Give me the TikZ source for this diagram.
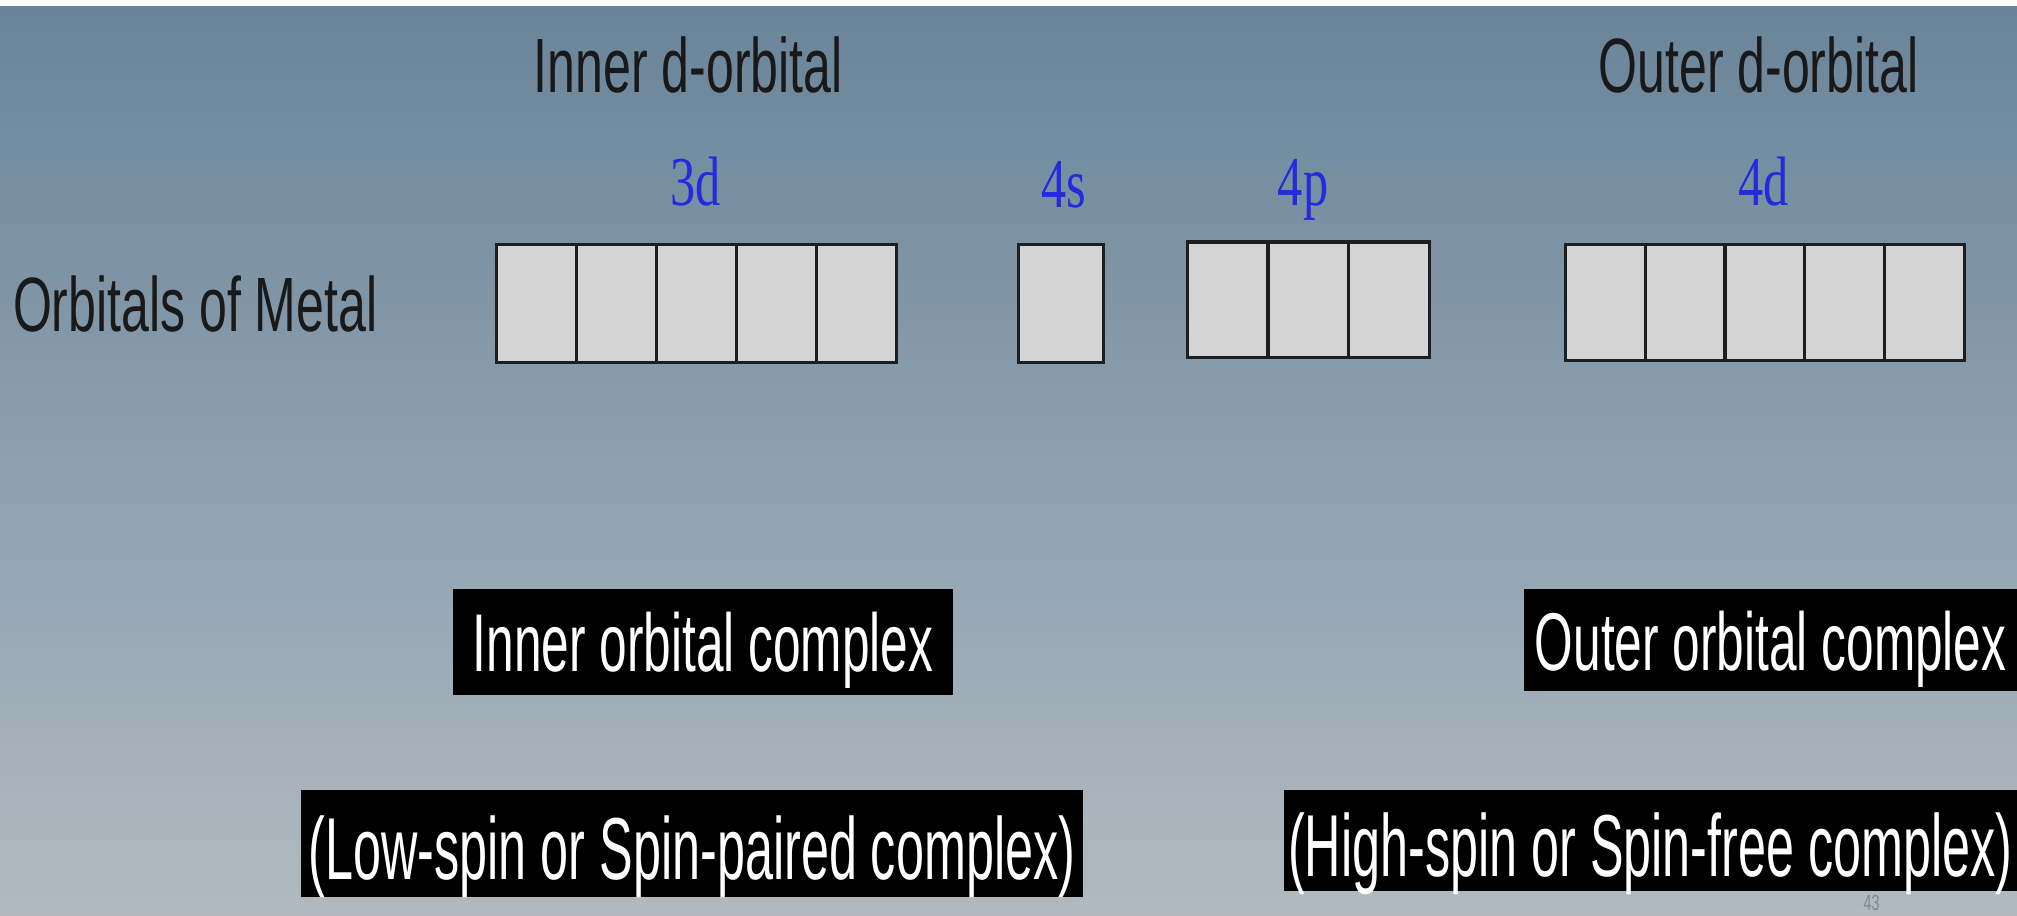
\documentclass[tikz,border=0pt]{standalone}
\usepackage{fontspec}
\newfontfamily\nar[FakeStretch=0.65]{Liberation Sans}
\newfontfamily\narb[FakeStretch=0.605]{Liberation Sans}
\newfontfamily\narc[FakeStretch=0.572]{Liberation Sans}
\newfontfamily\ser[FakeStretch=0.72]{Liberation Serif}
\newdimen\px \px=1.2864pt
\definecolor{bgtop}{RGB}{106,132,153}
\definecolor{bgmid}{RGB}{140,160,175}
\definecolor{bgbot}{RGB}{178,186,192}
\definecolor{lblue}{RGB}{38,42,220}
\definecolor{cellfill}{RGB}{212,212,212}
\definecolor{celledge}{RGB}{30,30,30}
\definecolor{pgnum}{RGB}{128,136,144}
\begin{document}
\begin{tikzpicture}[x=1.2864pt,y=-1.2864pt,
  lbl/.style={inner sep=0pt,anchor=base,font=\nar\fontsize{77}{90}\selectfont,text=black!90},
  orb/.style={inner sep=0pt,anchor=base,font=\ser\fontsize{70}{80}\selectfont,text=lblue},
  cell/.style={draw=celledge,line width=2.6\px,fill=cellfill,minimum height=92\px,inner sep=0pt},
  blk/.style={fill=black,text=white,inner sep=0pt,text height=#1,text depth=0pt},
  blkA/.style={blk=#1,font=\narb\fontsize{82}{90}\selectfont},
  blkB/.style={blk=#1,font=\narc\fontsize{88}{96}\selectfont}]
\useasboundingbox (0,0) rectangle (1568,712);
\fill[white] (0,0) rectangle (1568,6);
\shade[top color=bgtop,bottom color=bgbot,middle color=bgmid] (0,5) rectangle (1568,712);
% headings
\node[lbl] (inner) at (535,72) {Inner d-orbital};
\node[lbl] (outer) at (1367,72) {Outer d-orbital};
\node[lbl,anchor=base west] (metal) at (10,258) {Orbitals of Metal};
% orbital labels
\node[orb] (l3d) at (541,160) {3d};
\node[orb] (l4s) at (827,161) {4s};
\node[orb] (l4p) at (1013,160) {4p};
\node[orb] (l4d) at (1371,160) {4d};
% 3d cells
\foreach \i in {0,...,4}{
  \node[cell,minimum width=62.2\px] (d3-\i) at ({386+31.1+62.2*\i},236) {};
}
% 4s cell
\node[cell,minimum width=66\px] (s4) at (825,236) {};
% 4p cells
\foreach \i in {0,...,2}{
  \node[cell,minimum width=62.7\px,minimum height=90\px] (p4-\i) at ({923+31.35+62.7*\i},233) {};
}
% 4d cells
\foreach \i in {0,...,4}{
  \node[cell,minimum width=62\px,minimum height=90\px] (d4-\i) at ({1217+31+62*\i},235) {};
}
% black labels
\node[blkA=46\px,minimum width=389\px,minimum height=82\px] (ioc) at (546.5,499) {Inner orbital complex};
\node[blkA=47\px,minimum width=383\px,minimum height=79\px] (ooc) at (1376.5,497.5) {Outer orbital complex};
\node[blkB=57\px,minimum width=608\px,minimum height=83\px] (low) at (538,655.5) {(Low-spin or Spin-paired complex)};
\node[blkB=55\px,minimum width=570\px,minimum height=79\px] (high) at (1283,653.5) {(High-spin or Spin-free complex)};
% page number
\node[inner sep=0pt,font=\nar\fontsize{22}{24}\selectfont,text=pgnum] (pg) at (1455,702) {43};
\end{tikzpicture}
\end{document}
